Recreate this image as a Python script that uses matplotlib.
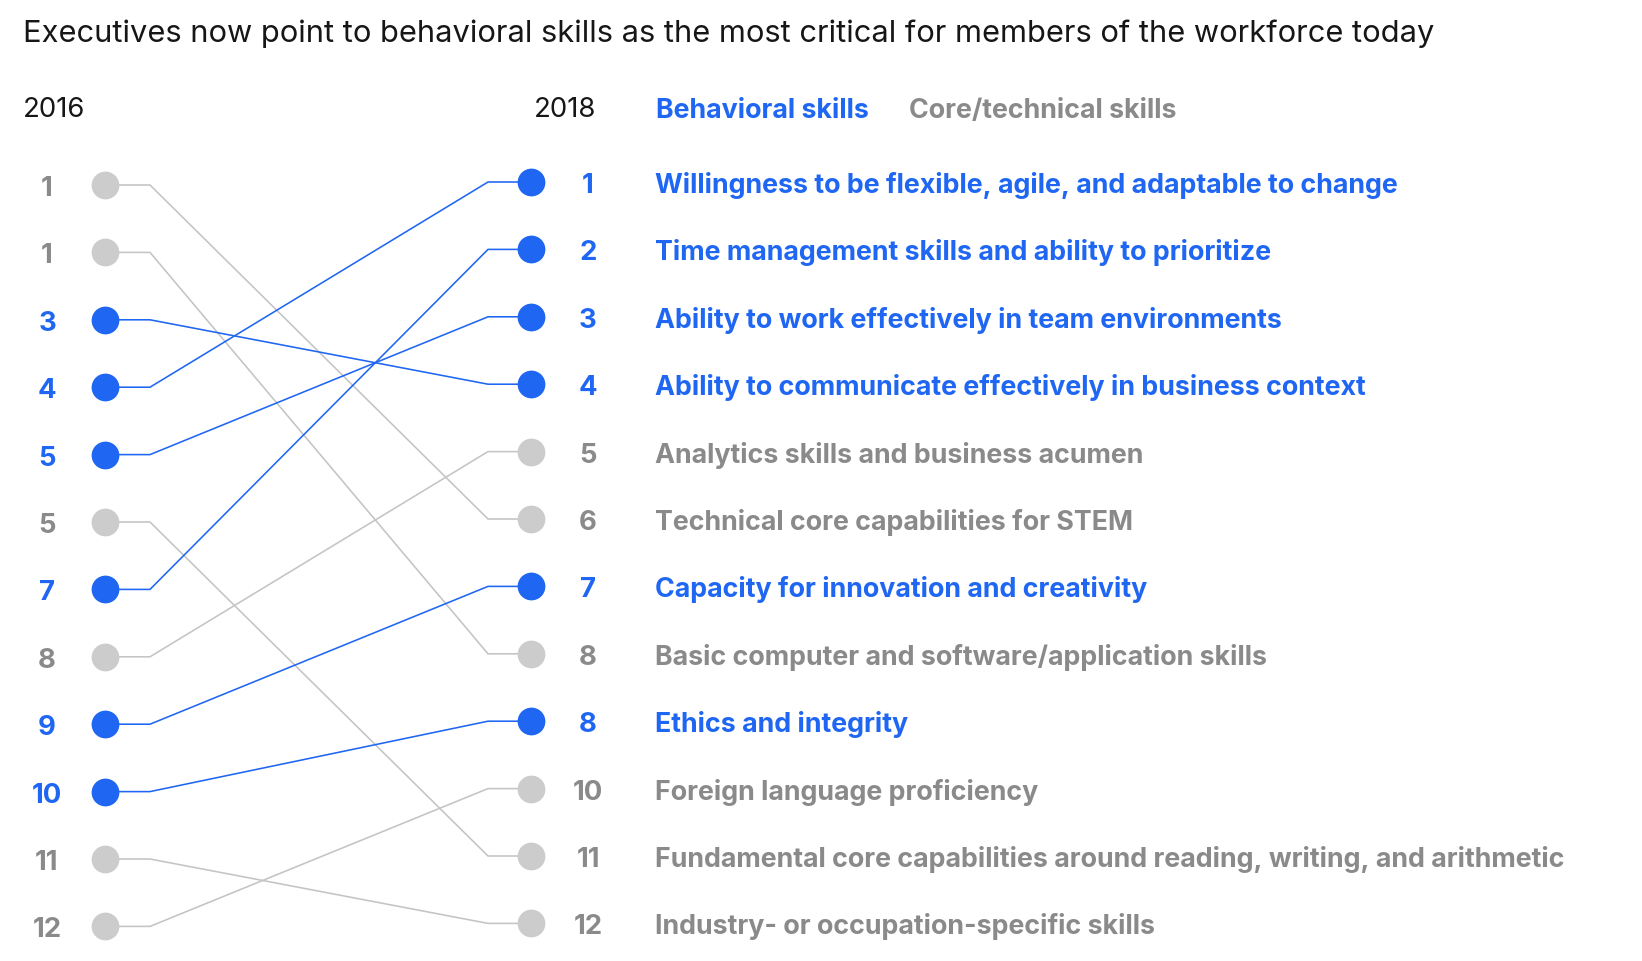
import matplotlib
matplotlib.use("Agg")
import matplotlib.pyplot as plt
import numpy as np

# data: skills in 2018 order
skills = [
    "Willingness to be flexible, agile, and adaptable to change",
    "Time management skills and ability to prioritize",
    "Ability to work effectively in team environments",
    "Ability to communicate effectively in business context",
    "Analytics skills and business acumen",
    "Technical core capabilities for STEM",
    "Capacity for innovation and creativity",
    "Basic computer and software/application skills",
    "Ethics and integrity",
    "Foreign language proficiency",
    "Fundamental core capabilities around reading, writing, and arithmetic",
    "Industry- or occupation-specific skills",
]
category = ["behavioral", "behavioral", "behavioral", "behavioral", "core", "core",
            "behavioral", "core", "behavioral", "core", "core", "core"]
rank_2016 = [4, 7, 5, 3, 8, 1, 9, 1, 10, 12, 5, 11]
rank_2018 = [1, 2, 3, 4, 5, 6, 7, 8, 8, 10, 11, 12]

title = "Executives now point to behavioral skills as the most critical for members of the workforce today"
legend_labels = ["Behavioral skills", "Core/technical skills"]

BLUE = "#1f66f2"
GRAY_TXT = "#8a8a8a"
GRAY_DOT = "#cccccc"
GRAY_LINE = "#c4c4c4"
DARK = "#161616"

plt.rcParams["font.family"] = ["Inter", "DejaVu Sans"]

W, H = 1642, 962
fig = plt.figure(figsize=(W / 100, H / 100), dpi=100)
ax = fig.add_axes([0, 0, 1, 1])

# row index -> pixel mapping
row0, step = 186, 67.4
ax.set_xlim(0, W)
ax.set_ylim((H - row0) / step, -row0 / step)
ax.axis("off")

def py(p):
    return (p - row0) / step

cap = 20 / step  # cap height in row units
right_shift = -3 / step

n = len(skills)
row_2018 = np.arange(n)
order_2016 = np.argsort(rank_2016, kind="stable")
row_2016 = np.empty(n, dtype=int)
row_2016[order_2016] = np.arange(n)

x_lnum, x_ldot, x_lbend = 47, 105, 150
x_rbend, x_rdot, x_rnum, x_label = 488, 531, 588, 655

for i in range(n):
    blue = category[i] == "behavioral"
    lc = BLUE if blue else GRAY_LINE
    dc = BLUE if blue else GRAY_DOT
    tc = BLUE if blue else GRAY_TXT
    yl = row_2016[i]
    yr = row_2018[i] + right_shift
    ax.plot([x_ldot, x_lbend, x_rbend, x_rdot], [yl, yl, yr, yr],
            color=lc, lw=1.15, zorder=1 if not blue else 2, solid_joinstyle="miter")
    ax.plot([x_ldot], [yl], "o", ms=20, color=dc, mec="none", zorder=3)
    ax.plot([x_rdot], [yr], "o", ms=20, color=dc, mec="none", zorder=3)
    ax.text(x_lnum, yl + cap / 2, str(rank_2016[i]), ha="center", va="baseline",
            fontsize=19.8, fontweight="bold", color=tc)
    ax.text(x_rnum, yr + cap / 2, str(rank_2018[i]), ha="center", va="baseline",
            fontsize=19.8, fontweight="bold", color=tc)
    ax.text(x_label, yr + cap / 2, skills[i], ha="left", va="baseline",
            fontsize=19.3, fontweight="bold", color=tc)

# header
ax.text(23, py(42), title, ha="left", va="baseline", fontsize=22.2, color=DARK)
ax.text(23, py(117), "2016", ha="left", va="baseline", fontsize=19.8, color=DARK)
ax.text(596, py(117), "2018", ha="right", va="baseline", fontsize=19.8, color=DARK)
ax.text(656, py(118), legend_labels[0], ha="left", va="baseline",
        fontsize=19.3, fontweight="bold", color=BLUE)
ax.text(909, py(118), legend_labels[1], ha="left", va="baseline",
        fontsize=19.3, fontweight="bold", color=GRAY_TXT)

fig.savefig("out.png", dpi=100, facecolor="white")
